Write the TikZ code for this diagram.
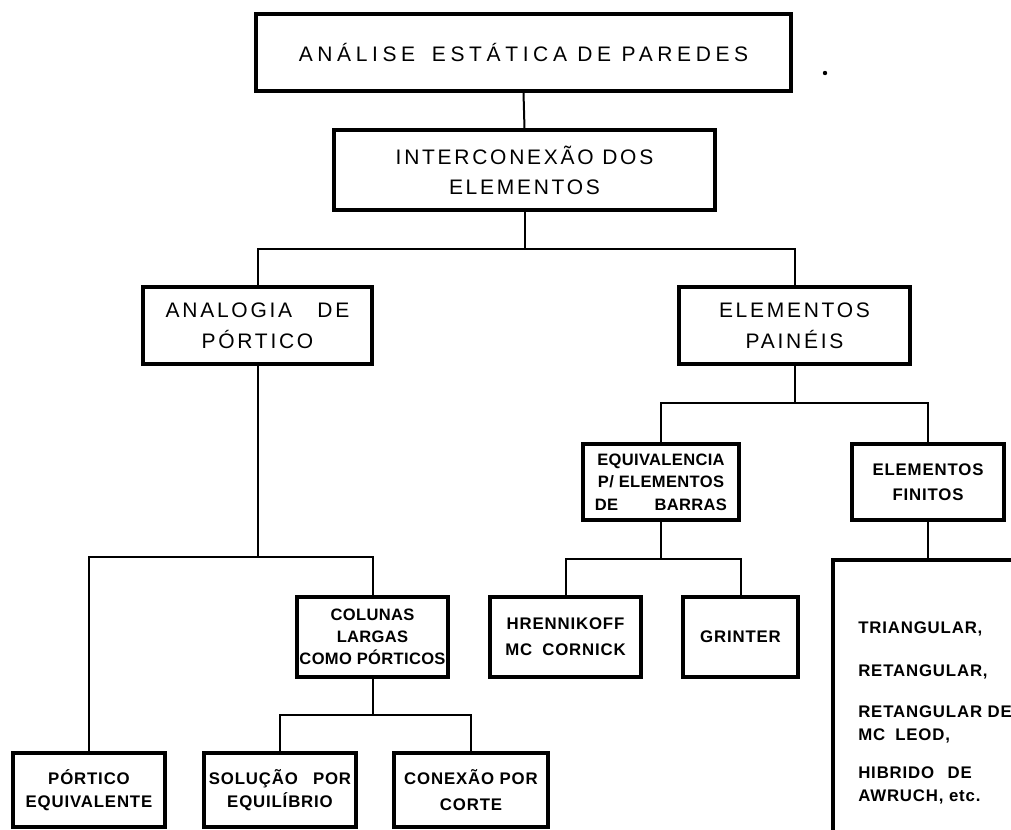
\documentclass[tikz,border=0pt]{standalone}
\usepackage{fontspec}
\setmainfont{Liberation Sans}
\usetikzlibrary{fit}
\begin{document}
\begin{tikzpicture}[x=0.75pt,y=-0.75pt,
  bx/.style={draw, line width=2.3pt, inner sep=0pt, align=center, line join=miter},
  ln/.style={line width=1.5pt, line join=miter},
  ftop/.style={font=\fontsize{15.75}{22.5}\selectfont\addfontfeatures{LetterSpace=22}},
  fmid/.style={font=\fontsize{15.75}{#1}\selectfont\addfontfeatures{LetterSpace=13}},
  flow/.style={font=\fontsize{12.6}{#1}\selectfont\bfseries\addfontfeatures{LetterSpace=5}},
  ftight/.style={font=\fontsize{12.4}{#1}\selectfont\bfseries\addfontfeatures{LetterSpace=2}}
]
\useasboundingbox (0,0) rectangle (1011,829);
\fill[white] (0,0) rectangle (1011,829);
\begin{scope}
\clip (0,0) rectangle (1011,829);

% levels 0-2
\node[bx, minimum width=401.25pt, minimum height=57.75pt, ftop] (top) at (523.5,52.5) {ANÁLISE\hspace{0.8em}ESTÁTICA DE PAREDES};
\node[bx, minimum width=285.75pt, minimum height=60pt, fmid=22.5] (mid) at (524.5,170) {INTERCONEXÃO DOS\\ELEMENTOS};
\node[bx, minimum width=171.75pt, minimum height=57.75pt, fmid=23.5] (ana) at (257.5,325.5) {ANALOGIA\hspace{1.2em}DE\\PÓRTICO};
\node[bx, minimum width=173.25pt, minimum height=57.75pt, fmid=23.5] (pan) at (794.5,325.5) {ELEMENTOS\\PAINÉIS};

% right branch
\node[bx, minimum width=117pt, minimum height=57pt, ftight=17] (eqv) at (661,482) {EQUIVALENCIA\\P/ ELEMENTOS\\DE\hspace{2.2em}BARRAS};
\node[bx, minimum width=114pt, minimum height=57pt, flow=19] (fin) at (928,482) {ELEMENTOS\\FINITOS};
\node[bx, minimum width=113.25pt, minimum height=60pt, flow=19.5] (hre) at (565.5,637) {HRENNIKOFF\\MC\hspace{0.6em}CORNICK};
\node[bx, minimum width=86.25pt, minimum height=60pt, flow=19.5] (gri) at (740.5,637) {GRINTER};
\node[bx, fit={(833,560) (1060,880)}] (fe) {};
\node[anchor=north west, align=left, inner sep=0pt, flow=17.25] (fetxt) at (858,621)
  {TRIANGULAR,\\[15pt]RETANGULAR,\\[14pt]RETANGULAR DE\\MC\hspace{0.6em}LEOD,\\[11pt]HIBRIDO\hspace{0.8em}DE\\AWRUCH, etc.};

% left branch
\node[bx, minimum width=113.25pt, minimum height=60pt, ftight=16.5] (col) at (372.5,637) {COLUNAS\\LARGAS\\COMO PÓRTICOS};
\node[bx, minimum width=114pt, minimum height=55.5pt, flow=17.5] (peq) at (89,790) {PÓRTICO\\EQUIVALENTE};
\node[bx, minimum width=114pt, minimum height=55.5pt, flow=17.5] (sol) at (280,790) {SOLUÇÃO\hspace{0.9em}POR\\EQUILÍBRIO};
\node[bx, minimum width=115.5pt, minimum height=55.5pt, flow=19.5] (con) at (471,790) {CONEXÃO POR\\CORTE};

% junction levels
\coordinate (j1) at (0,249);
\coordinate (j2) at (0,557);
\coordinate (j3) at (0,715);
\coordinate (j4) at (0,403);
\coordinate (j5) at (0,559);

\draw[ln] (top.south) -- (mid.north);
\draw[ln] (mid.south) -- (mid.south |- j1);
\draw[ln] (ana.north) -- (ana.north |- j1) -- (pan.north |- j1) -- (pan.north);

\draw[ln] (ana.south) -- (ana.south |- j2);
\draw[ln] (peq.north) -- (peq.north |- j2) -- (col.north |- j2) -- (col.north);
\draw[ln] (col.south) -- (col.south |- j3);
\draw[ln] (sol.north) -- (sol.north |- j3) -- (con.north |- j3) -- (con.north);

\draw[ln] (pan.south) -- (pan.south |- j4);
\draw[ln] (eqv.north) -- (eqv.north |- j4) -- (fin.north |- j4) -- (fin.north);
\draw[ln] (eqv.south) -- (eqv.south |- j5);
\draw[ln] (hre.north) -- (hre.north |- j5) -- (gri.north |- j5) -- (gri.north);
\draw[ln] (fin.south) -- (fin.south |- fe.north);

% stray mark beside the title box
\fill (825,73) circle[radius=2.2];
\end{scope}
\end{tikzpicture}
\end{document}
